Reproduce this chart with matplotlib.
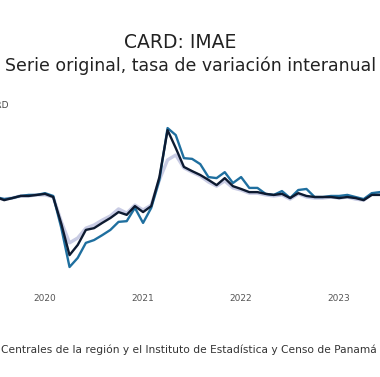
import matplotlib.pyplot as plt

# monthly, Jun 2019 .. Jul 2023 (year-on-year % change)
months = list(range(50))
card = [4.0, 4.0, 3.1, 3.7, 4.3, 4.3, 4.6, 4.9, 4.0, -3.7,
        -12.6, -9.7, -5.4, -4.9, -3.4, -2.0, -0.3, -1.1, 1.4, -0.3,
        1.4, 9.7, 23.1, 18.0, 12.6, 11.4, 10.3, 8.9, 7.4, 9.4,
        7.1, 6.3, 5.4, 5.4, 4.9, 4.6, 4.9, 3.7, 5.1, 4.3,
        4.0, 4.0, 4.0, 3.7, 4.0, 3.7, 3.1, 4.6, 4.6, 4.9]
card_pan = [4.0, 4.0, 3.4, 3.7, 4.3, 4.6, 4.6, 5.1, 4.3, -4.9,
            -16.0, -13.4, -9.1, -8.3, -6.9, -5.4, -3.1, -2.9, 0.9, -3.4,
            0.9, 8.9, 23.7, 21.7, 15.1, 14.9, 13.4, 9.7, 9.4, 11.1,
            8.0, 9.7, 6.6, 6.6, 4.9, 4.6, 5.7, 3.7, 6.0, 6.3,
            4.0, 4.0, 4.3, 4.3, 4.6, 4.0, 3.4, 5.1, 5.4, 5.7]
card_light = [4.0, 3.7, 3.4, 3.7, 4.3, 4.3, 4.6, 4.6, 4.0, -3.1,
              -9.1, -7.7, -4.9, -4.0, -2.6, -1.4, 0.6, -0.6, 1.7, 0.3,
              1.7, 8.9, 14.6, 16.0, 12.3, 11.1, 10.0, 8.3, 7.1, 8.6,
              6.6, 6.0, 5.1, 5.1, 4.6, 4.3, 4.6, 3.4, 4.9, 4.0,
              3.7, 3.7, 4.0, 3.7, 4.0, 3.4, 3.1, 4.9, 5.1, 5.4]
year_ticks = [7, 19, 31, 43]
year_labels = ['2020', '2021', '2022', '2023']

fig = plt.figure(figsize=(3.8, 3.77), dpi=100)
ax = fig.add_axes([0, 0.2546, 1, 0.4642])

ax.plot(months, card_light, color='#c9cce4', lw=2.4)
ax.plot(months, card_pan, color='#1f6f9f', lw=1.7)
ax.plot(months, card, color='#0d1a30', lw=1.7)

ax.set_xlim(1.49, 48.0)
ax.set_ylim(-20, 30)
ax.set_xticks(year_ticks)
ax.set_xticklabels(year_labels, fontsize=6.5, color='#555555')
ax.set_yticks([])
ax.tick_params(length=0, pad=9)
for s in ax.spines.values():
    s.set_visible(False)

fig.text(180 / 380, 1 - 42 / 377, 'CARD: IMAE', ha='center', va='center',
         fontsize=13.5, color='#222222')
fig.text(376 / 380, 1 - 66 / 377, 'Serie original, tasa de variación interanual',
         ha='right', va='center', fontsize=12.5, color='#222222')
fig.text(9 / 380, 1 - 105 / 377, 'CARD', ha='right', va='center',
         fontsize=6.5, color='#444444')
fig.text(1 / 380, 1 - 350 / 377,
         'Centrales de la región y el Instituto de Estadística y Censo de Panamá',
         ha='left', va='center', fontsize=7.7, color='#333333')

fig.savefig('out.png', dpi=100, facecolor='white')
